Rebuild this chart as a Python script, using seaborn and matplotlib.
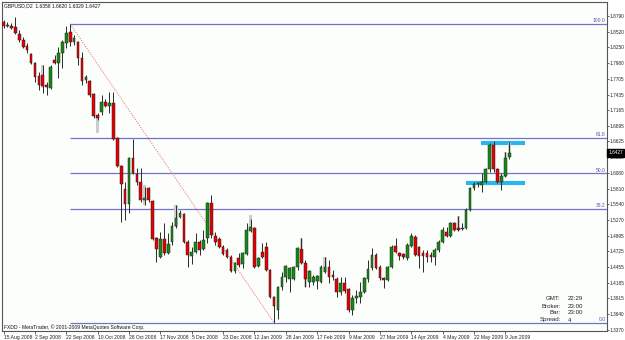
import numpy as np
import pandas as pd
import matplotlib
matplotlib.use("Agg")
import matplotlib.pyplot as plt
import matplotlib.transforms as mtransforms
import seaborn as sns

# ---------------- data (GBPUSD, D2 bars) ----------------
opens = [
    1.8686, 1.8617, 1.8617, 1.8600, 1.8479, 1.8376, 1.8272, 1.8134, 1.7979, 1.7754,
    1.7772, 1.7599, 1.7547, 1.8031, 1.7979, 1.8151, 1.8324, 1.8514, 1.8341, 1.8341,
    1.8065, 1.7685, 1.7668, 1.7444, 1.7081, 1.7132, 1.7305, 1.7236, 1.7288, 1.6684,
    1.6200, 1.5804, 1.5545, 1.6339, 1.6063, 1.5924, 1.5614, 1.5821, 1.5597, 1.4958,
    1.4630, 1.4941, 1.4699, 1.4889, 1.5165, 1.5320, 1.5372, 1.4889, 1.4647, 1.4716,
    1.4889, 1.4768, 1.4958, 1.5562, 1.4992, 1.4941, 1.4803, 1.4751, 1.4630, 1.4389,
    1.4613, 1.4509, 1.4682, 1.5079, 1.5130, 1.4475, 1.4716, 1.4803, 1.4406, 1.3940,
    1.3715, 1.4112, 1.4285, 1.4250, 1.4250, 1.4458, 1.4768, 1.4527, 1.4198, 1.4198,
    1.4216, 1.4198, 1.4371, 1.4458, 1.4319, 1.4250, 1.4026, 1.4181, 1.4078, 1.3715,
    1.3923, 1.3940, 1.4026, 1.4250, 1.4440, 1.4665, 1.4458, 1.4267, 1.4233, 1.4458,
    1.4820, 1.4699, 1.4682, 1.4613, 1.4820, 1.4975, 1.4803, 1.4699, 1.4699, 1.4665,
    1.4630, 1.4751, 1.4889, 1.5061, 1.4992, 1.5217, 1.5130, 1.5113, 1.5130, 1.5441,
    1.5821, 1.5890, 1.5873, 1.5924, 1.6149, 1.6564, 1.6149, 1.5924, 1.6028, 1.6358,
]
highs = [
    1.8721, 1.8686, 1.8669, 1.8773, 1.8548, 1.8427, 1.8324, 1.8151, 1.7996, 1.7823,
    1.7945, 1.7650, 1.7945, 1.8117, 1.8255, 1.8376, 1.8617, 1.8652, 1.8462, 1.8359,
    1.8169, 1.7772, 1.7685, 1.7461, 1.7115, 1.7427, 1.7358, 1.7478, 1.7478, 1.6701,
    1.6218, 1.5924, 1.6356, 1.6667, 1.6166, 1.6166, 1.5838, 1.5838, 1.5614, 1.4975,
    1.5061, 1.5217, 1.5044, 1.5234, 1.5527, 1.5441, 1.5389, 1.4923, 1.4803, 1.5044,
    1.4923, 1.5096, 1.5579, 1.5700, 1.5061, 1.4975, 1.4837, 1.4785, 1.4665, 1.4544,
    1.4699, 1.4716, 1.5217, 1.5286, 1.5148, 1.4630, 1.4872, 1.4889, 1.4423, 1.3957,
    1.4129, 1.4371, 1.4492, 1.4458, 1.4475, 1.4803, 1.4958, 1.4578, 1.4406, 1.4319,
    1.4319, 1.4492, 1.4630, 1.4578, 1.4406, 1.4285, 1.4285, 1.4285, 1.4095, 1.3974,
    1.4060, 1.4198, 1.4285, 1.4578, 1.4785, 1.4699, 1.4492, 1.4285, 1.4475, 1.4837,
    1.4958, 1.4716, 1.4699, 1.4872, 1.5044, 1.5010, 1.4820, 1.4751, 1.4751, 1.4716,
    1.4785, 1.4923, 1.5148, 1.5148, 1.5234, 1.5234, 1.5338, 1.5217, 1.5476, 1.5838,
    1.5924, 1.5924, 1.6080, 1.6166, 1.6598, 1.6633, 1.6166, 1.6080, 1.6443, 1.6620,
]
lows = [
    1.8583, 1.8600, 1.8566, 1.8479, 1.8341, 1.8238, 1.8151, 1.7962, 1.7650, 1.7513,
    1.7461, 1.7427, 1.7530, 1.7962, 1.7720, 1.7893, 1.8238, 1.8272, 1.8290, 1.7945,
    1.7599, 1.7633, 1.7392, 1.7029, 1.6995, 1.7081, 1.7219, 1.7115, 1.6650, 1.6183,
    1.5234, 1.5269, 1.5389, 1.6063, 1.5873, 1.5579, 1.5527, 1.5579, 1.4923, 1.4544,
    1.4613, 1.4665, 1.4682, 1.4837, 1.5130, 1.5303, 1.4872, 1.4458, 1.4509, 1.4699,
    1.4665, 1.4751, 1.4872, 1.4958, 1.4837, 1.4785, 1.4665, 1.4613, 1.4371, 1.4354,
    1.4458, 1.4440, 1.4665, 1.5061, 1.4440, 1.4458, 1.4613, 1.4389, 1.3923, 1.3496,
    1.3559, 1.4060, 1.4198, 1.4026, 1.4233, 1.4406, 1.4509, 1.4112, 1.4112, 1.4147,
    1.4078, 1.4181, 1.4354, 1.4181, 1.4233, 1.3940, 1.3974, 1.4009, 1.3681, 1.3629,
    1.3836, 1.3836, 1.4009, 1.4198, 1.4406, 1.4423, 1.4233, 1.4095, 1.4216, 1.4440,
    1.4699, 1.4578, 1.4596, 1.4578, 1.4803, 1.4647, 1.4440, 1.4371, 1.4544, 1.4544,
    1.4492, 1.4716, 1.4872, 1.4975, 1.4975, 1.5079, 1.5079, 1.5096, 1.5113, 1.5424,
    1.5786, 1.5838, 1.5752, 1.5907, 1.6097, 1.6097, 1.5907, 1.5786, 1.6011, 1.6329,
]
closes = [
    1.8617, 1.8635, 1.8583, 1.8496, 1.8376, 1.8255, 1.8203, 1.7979, 1.7737, 1.7599,
    1.7581, 1.7564, 1.7910, 1.7979, 1.8151, 1.8341, 1.8496, 1.8341, 1.8410, 1.8065,
    1.7668, 1.7737, 1.7427, 1.7064, 1.7029, 1.7305, 1.7236, 1.7288, 1.6667, 1.6200,
    1.5890, 1.5545, 1.6339, 1.6080, 1.5924, 1.5614, 1.5648, 1.5614, 1.4941, 1.4768,
    1.4941, 1.4699, 1.4854, 1.5165, 1.5303, 1.5389, 1.4889, 1.4665, 1.4716, 1.4889,
    1.4751, 1.4923, 1.5562, 1.5010, 1.4889, 1.4803, 1.4682, 1.4630, 1.4389, 1.4527,
    1.4492, 1.4699, 1.5096, 1.5148, 1.4458, 1.4613, 1.4630, 1.4406, 1.3940, 1.3785,
    1.4112, 1.4285, 1.4475, 1.4440, 1.4458, 1.4785, 1.4527, 1.4250, 1.4389, 1.4285,
    1.4302, 1.4458, 1.4458, 1.4285, 1.4285, 1.4026, 1.4181, 1.4043, 1.3715, 1.3923,
    1.3957, 1.4026, 1.4267, 1.4423, 1.4665, 1.4440, 1.4267, 1.4233, 1.4458, 1.4803,
    1.4716, 1.4647, 1.4630, 1.4837, 1.4992, 1.4665, 1.4647, 1.4647, 1.4630, 1.4630,
    1.4751, 1.4889, 1.5096, 1.4992, 1.5217, 1.5096, 1.5096, 1.5130, 1.5441, 1.5821,
    1.5890, 1.5907, 1.5924, 1.6149, 1.6564, 1.6149, 1.5924, 1.6028, 1.6339, 1.6427,
]

# light grey "shadow" bars visible behind some candles
shadow_idx = [10, 24, 36, 44, 63, 76, 77, 82, 116, 128, 129]
shadow_hi = [1.7945, 1.7081, 1.5873, 1.5527, 1.5355, 1.4958, 1.4527, 1.4630, 1.5338, 1.6443, 1.6598]
shadow_lo = [1.7547, 1.6770, 1.5527, 1.5148, 1.5096, 1.4785, 1.4112, 1.4371, 1.5096, 1.6011, 1.6425]

date_labels = ["15 Aug 2008", "2 Sep 2008", "22 Sep 2008", "10 Oct 2008", "28 Oct 2008",
               "17 Nov 2008", "5 Dec 2008", "23 Dec 2008", "12 Jan 2009", "28 Jan 2009",
               "17 Feb 2009", "9 Mar 2009", "27 Mar 2009", "14 Apr 2009", "4 May 2009",
               "22 May 2009", "9 Jun 2009"]
date_bar_step = 8

price_ticks = [1.8790, 1.8520, 1.8250, 1.7980, 1.7705, 1.7435, 1.7165, 1.6895, 1.6625,
               1.6350, 1.6080, 1.5810, 1.5540, 1.5270, 1.4995, 1.4725, 1.4455, 1.4185,
               1.3915, 1.3640, 1.3370]

fib_names = ["100.0", "61.8", "50.0", "38.2", "0.0"]
fib_prices = [1.8652, 1.6682, 1.6074, 1.5466, 1.3496]
fib_start_bar = 17
trend_bars = [17, 69]
trend_prices = [1.8652, 1.3496]

zone_prices = [1.6592, 1.5907]
zone_start = [121.9, 117.9]
zone_end = [132.9, 132.9]

header = "GBPUSD,D2  1.6358 1.6620 1.6329 1.6427"
footer = "FXDD - MetaTrader, \u00a9 2001-2009 MetaQuotes Software Corp."
info_keys = ["GMT:", "Broker:", "Bar:", "Spread:"]
info_vals = ["22:29", "23:00", "23:00", "4"]
last_price = "1.6427"

# ---------------- style ----------------
sns.set_style("white")
plt.rcParams["font.family"] = ["Liberation Sans", "DejaVu Sans"]

W, H = 625, 340
fig = plt.figure(figsize=(W / 100, H / 100), dpi=100)
fig.patch.set_facecolor("white")
ax_l, ax_r, ax_t, ax_b = 2, 607, 2, 331
ax = fig.add_axes([ax_l / W, 1 - ax_b / H, (ax_r - ax_l) / W, (ax_b - ax_t) / H])
ax.set_facecolor("#fcfefc")

df = pd.DataFrame({"open": opens, "high": highs, "low": lows, "close": closes})
df["bar"] = np.arange(len(df))
df["up"] = df["close"] >= df["open"]
df["bottom"] = df[["open", "close"]].min(axis=1)
df["height"] = (df["close"] - df["open"]).abs().clip(lower=0.0012)

px_per_bar = 3.92
xmin = -0.4
xmax = xmin + (ax_r - ax_l) / px_per_bar
ax.set_xlim(xmin, xmax)
ax.set_ylim(1.3352, 1.9032)

# fib levels
blend = mtransforms.blended_transform_factory(ax.transAxes, ax.transData)
for name, p in zip(fib_names, fib_prices):
    ax.hlines(p, fib_start_bar, xmax, color="#7272c6", lw=0.9, zorder=1)
    ax.text(0.998, p + 0.0012, name, transform=blend,
            ha="right", va="bottom", fontsize=3.6, color="#5050b0")

# trend line (dotted)
tl = pd.DataFrame({"bar": trend_bars, "price": trend_prices})
sns.lineplot(data=tl, x="bar", y="price", ax=ax, color="#f08080", lw=0.8,
             linestyle=(0, (1, 1.2)), zorder=1.5)

# zones
for p, s, e in zip(zone_prices, zone_start, zone_end):
    ax.hlines(p, s, e, color="#2ab6ec", lw=3.0, zorder=2)

# shadow bars
sh_h = np.array(shadow_hi) - np.array(shadow_lo)
ax.bar(shadow_idx, sh_h, bottom=shadow_lo, width=0.8, color="#cdcdcd", edgecolor="none", zorder=2.5)

# candles
ax.vlines(df["bar"], df["low"], df["high"], color="#2a2a2a", lw=0.7, zorder=3)
colors = np.where(df["up"], "#148c14", "#e60000")
ax.bar(df["bar"], df["height"], bottom=df["bottom"], width=0.68, color=colors,
       edgecolor="#222222", linewidth=0.35, zorder=4)

# axes / ticks
for s in ax.spines.values():
    s.set_color("#555555")
    s.set_linewidth(0.8)
ax.yaxis.tick_right()
ax.set_yticks(price_ticks)
ax.set_yticklabels([f"{v:.4f}" for v in price_ticks])
ax.tick_params(axis="y", which="both", right=True, left=False, length=1.5, width=0.5,
               pad=0.6, labelsize=3.4, colors="#222222")
xt = [i * date_bar_step for i in range(len(date_labels))]
ax.set_xticks(xt)
ax.set_xticklabels(date_labels)
ax.tick_params(axis="x", bottom=True, length=2, width=0.5, pad=1.2, labelsize=3.6, colors="#222222")
for lab in ax.get_xticklabels():
    lab.set_horizontalalignment("left")
ax.set_xlabel("")
ax.set_ylabel("")
ax.grid(False)

def fx(x):
    return x / W

def fy(y):
    return 1 - y / H

fig.text(fx(4), fy(6), header, fontsize=3.6, va="center", ha="left", color="#111111")
fig.text(fx(4), fy(327), footer, fontsize=3.6, va="center", ha="left", color="#111111")
rows_y = [298, 306, 313, 320]
for k, v, y in zip(info_keys, info_vals, rows_y):
    fig.text(fx(561), fy(y), k, fontsize=4.4, va="center", ha="right", color="#222222")
    fig.text(fx(568), fy(y), v, fontsize=4.4, va="center", ha="left", color="#222222")

fig.text(fx(608.5), fy(153), last_price, fontsize=3.4, va="center", ha="left", color="white",
         bbox=dict(boxstyle="square,pad=0.25", facecolor="black", edgecolor="black"))

fig.savefig("out.png", dpi=100, facecolor="white")
